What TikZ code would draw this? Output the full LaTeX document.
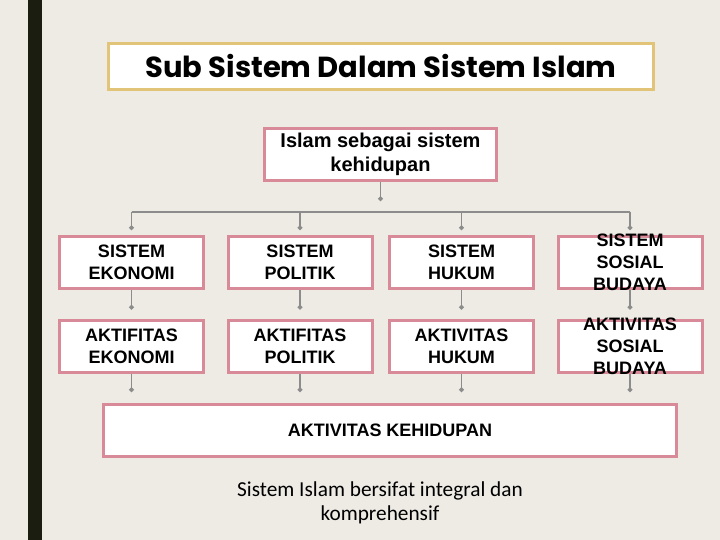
\documentclass[tikz,border=0pt]{standalone}
\usepackage{fontspec}
\setmainfont{Liberation Sans}
\newfontfamily\judulfont{Poppins}
\newfontfamily\ketfont{Carlito}
\usetikzlibrary{arrows.meta}

\tikzset{
  kotak/.style={draw=merahmuda, line width=3pt, fill=white, align=center,
    minimum width=144pt, minimum height=52pt, inner sep=0pt,
    font=\fontsize{18}{22}\selectfont\bfseries},
  tigabaris/.style={label={[align=center, font=\fontsize{18}{22}\selectfont\bfseries]center:{#1}}},
  garis/.style={draw=abu, line width=1.6pt},
  titik/.style={garis, -{Circle[length=4.5pt]}},
}

\begin{document}
\begin{tikzpicture}[x=1pt, y=-1pt]
    % Colours of the slide
    \definecolor{latar}{RGB}{238,235,228}
    \definecolor{batang}{RGB}{27,29,16}
    \definecolor{merahmuda}{RGB}{217,138,152}
    \definecolor{emas}{RGB}{226,196,120}
    \definecolor{abu}{RGB}{140,140,140}

    % 1. Background and the dark bar on the left
    \useasboundingbox (0,0) rectangle (720,540);
    \fill[latar] (0,0) rectangle (720,540);
    \fill[batang] (28,0) rectangle (42,540);

    % 2. Title
    \node[draw=emas, line width=3pt, fill=white, minimum width=545pt, minimum height=46pt,
          font=\judulfont\bfseries\fontsize{29}{31}\selectfont] (judul) at (381,66.5)
        {Sub Sistem Dalam Sistem Islam};

    % 3. Top box and the bus line
    \node[kotak, minimum width=232pt, font=\fontsize{20}{24}\selectfont\bfseries] (islam) at (380.5,154.5)
        {Islam sebagai sistem\\kehidupan};
    \coordinate (bus) at (380,212);

    % 4. Systems
    \node[kotak] (sEko) at (131.5,262.5) {SISTEM\\EKONOMI};
    \node[kotak] (sPol) at (300,262.5)   {SISTEM\\POLITIK};
    \node[kotak] (sHuk) at (461.5,262.5) {SISTEM\\HUKUM};
    \node[kotak, tigabaris={SISTEM\\SOSIAL\\BUDAYA}] (sSos) at (630,262.5) {};

    % 5. Activities
    \node[kotak] (aEko) at (131.5,346) {AKTIFITAS\\EKONOMI};
    \node[kotak] (aPol) at (300,346)   {AKTIFITAS\\POLITIK};
    \node[kotak] (aHuk) at (461.5,346) {AKTIVITAS\\HUKUM};
    \node[kotak, tigabaris={AKTIVITAS\\SOSIAL\\BUDAYA}] (aSos) at (630,346) {};

    % 6. Life activity
    \node[kotak, minimum width=573pt] (hidup) at (390,430.5) {AKTIVITAS KEHIDUPAN};

    % 7. Connectors
    \draw[titik, shorten >=11pt] (islam.south) -- (islam.south |- bus);
    \draw[garis] (sEko.north |- bus) -- (sSos.north |- bus);
    \foreach \n in {Eko,Pol,Huk,Sos} {
        \draw[titik, shorten >=5pt] (s\n.north |- bus) -- (s\n.north);
        \draw[titik, shorten >=9pt] (s\n.south) -- (a\n.north);
        \draw[titik, shorten >=11pt] (a\n.south) -- (a\n.south |- hidup.north);
    }

    % 8. Note
    \node[align=center, font=\ketfont\fontsize{21.3}{24}\selectfont] (ket) at (380,503)
        {Sistem Islam bersifat integral dan\\komprehensif};
\end{tikzpicture}
\end{document}
